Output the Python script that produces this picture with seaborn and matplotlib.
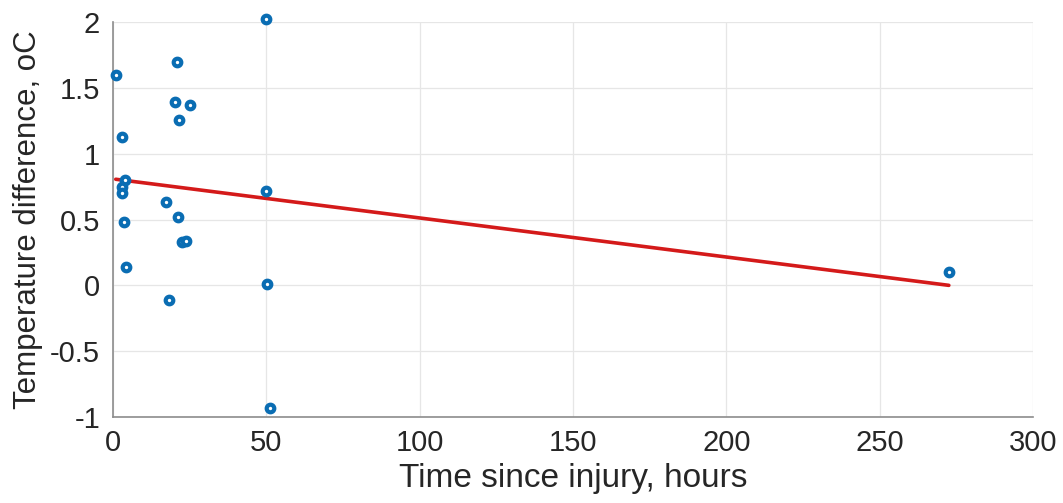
import numpy as np
import pandas as pd
import matplotlib
matplotlib.use("Agg")
import matplotlib.pyplot as plt
import seaborn as sns

# time since injury (hours) and temperature difference (oC)
hours = [1.0, 3.2, 4.1, 3.2, 3.0, 3.8, 4.4,
         21.0, 20.3, 25.1, 21.7, 17.5, 21.2, 22.5, 23.9, 18.2,
         50.1, 49.9, 50.4, 51.3, 272.5]
temp_diff = [1.60, 1.13, 0.80, 0.75, 0.70, 0.48, 0.14,
             1.70, 1.39, 1.37, 1.26, 0.63, 0.52, 0.33, 0.34, -0.11,
             2.02, 0.72, 0.01, -0.93, 0.10]

x_ticks = [0, 50, 100, 150, 200, 250, 300]
y_ticks = [-1, -0.5, 0, 0.5, 1, 1.5, 2]
y_tick_labels = ["-1", "-0.5", "0", "0.5", "1", "1.5", "2"]

df = pd.DataFrame({"hours": hours, "temp_diff": temp_diff})

# least squares line over the data range
slope, intercept = np.polyfit(df["hours"], df["temp_diff"], 1)
fit = pd.DataFrame({"hours": [df["hours"].min(), df["hours"].max()]})
fit["temp_diff"] = intercept + slope * fit["hours"]

sns.set_style("whitegrid")
plt.rcParams["font.family"] = ["Liberation Sans", "DejaVu Sans"]
plt.rcParams["axes.unicode_minus"] = False

fig = plt.figure(figsize=(10.63, 5.03), dpi=100)
ax = fig.add_axes([0.106, 0.171, 0.866, 0.785])

sns.lineplot(data=fit, x="hours", y="temp_diff", color="#d41a1a",
             linewidth=2.6, ax=ax, zorder=2)
sns.scatterplot(data=df, x="hours", y="temp_diff", ax=ax, marker="o",
                s=30, facecolor="white", edgecolor="#0a6db3",
                linewidth=3.0, zorder=3, clip_on=False)

ax.set_xlim(0, 300)
ax.set_ylim(-1, 2)
ax.set_xticks(x_ticks)
ax.set_yticks(y_ticks)
ax.set_yticklabels(y_tick_labels)

ax.grid(True, color="#e6e6e6", linewidth=0.9)
for side in ["top", "right"]:
    ax.spines[side].set_visible(False)
for side in ["left", "bottom"]:
    ax.spines[side].set_color("#8c8c8c")
    ax.spines[side].set_linewidth(1.2)

ax.tick_params(axis="both", direction="in", length=5, width=1,
               color="#8c8c8c", labelsize=21, labelcolor="#262626")
ax.tick_params(axis="x", pad=9)
ax.tick_params(axis="y", pad=9)
ax.set_xlabel("Time since injury, hours", fontsize=24, color="#262626",
              labelpad=4)
ax.set_ylabel("Temperature difference, oC", fontsize=22.5, color="#262626",
              labelpad=5)

plt.savefig("out.png", dpi=100)
